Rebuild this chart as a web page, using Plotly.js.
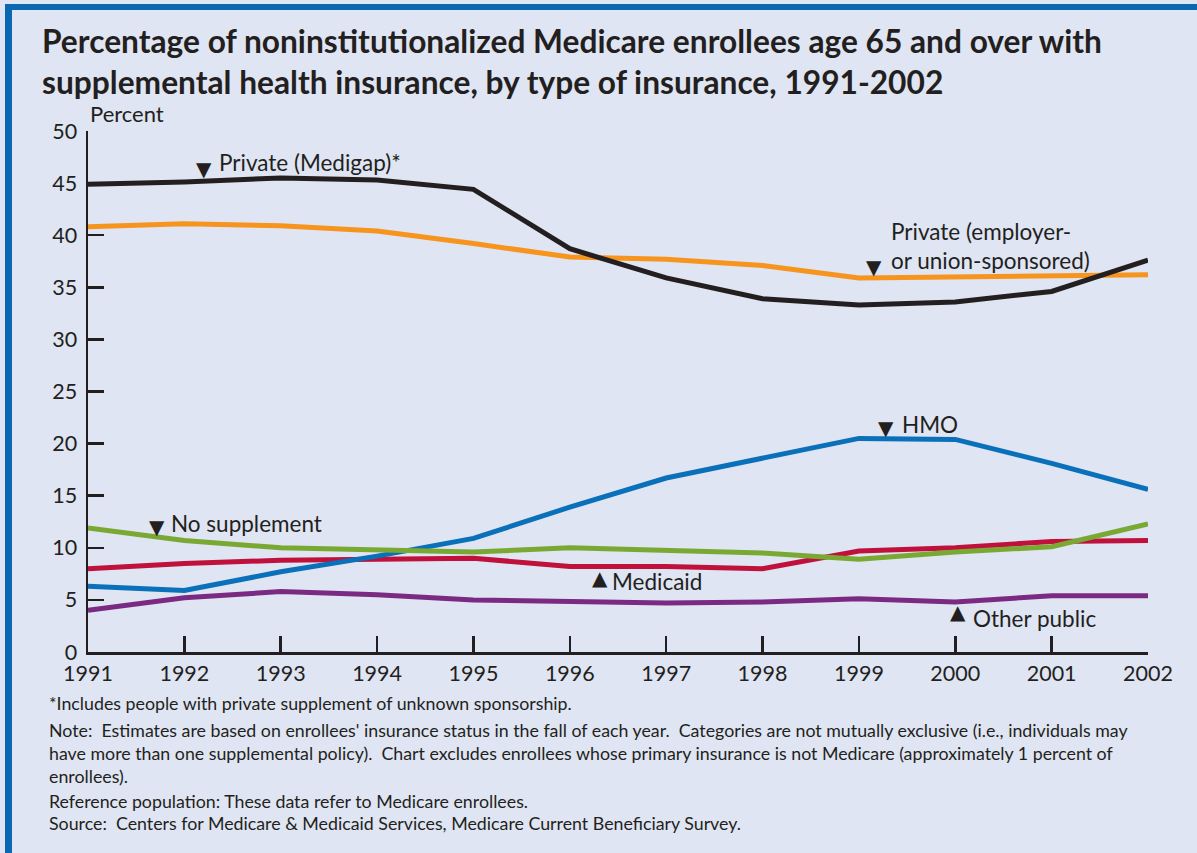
<!DOCTYPE html>
<html>
<head>
<meta charset="utf-8">
<script src="https://cdn.plot.ly/plotly-3.0.1.min.js"></script>
<style>
  html, body { margin:0; padding:0; background:#dfe5f2; }
  #wrap { position:relative; width:1197px; height:853px; overflow:hidden; }
  #chart { position:absolute; left:0; top:0; width:1197px; height:853px; }
  #btop { position:absolute; left:5px; top:4px; width:1192px; height:6px; background:#0a67b2; }
  #bleft { position:absolute; left:5px; top:4px; width:7px; height:849px; background:#0a67b2; }
</style>
</head>
<body>
<div id="wrap">
  <div id="chart"></div>
  <div id="btop"></div>
  <div id="bleft"></div>
</div>
<script>
const years = [1991,1992,1993,1994,1995,1996,1997,1998,1999,2000,2001,2002];
const medigap     = [44.9,45.1,45.5,45.3,44.4,38.7,35.9,33.9,33.3,33.6,34.6,37.6];
const employer    = [40.8,41.1,40.9,40.4,39.2,37.9,37.7,37.1,35.9,36.0,36.1,36.2];
const hmo         = [6.3,5.9,7.7,9.2,10.9,13.9,16.7,18.6,20.5,20.4,18.1,15.6];
const noSupp      = [11.9,10.7,10.0,9.8,9.6,10.0,9.8,9.5,8.9,9.6,10.1,12.3];
const medicaid    = [8.0,8.5,8.8,8.9,9.0,8.2,8.2,8.0,9.7,10.0,10.6,10.7];
const otherPublic = [4.0,5.2,5.8,5.5,5.0,4.8,4.7,4.8,5.1,4.8,5.4,5.4];
const yTicks = [0,5,10,15,20,25,30,35,40,45,50];

const ink = '#231f20';
const F = 'Lato, "Open Sans", sans-serif';

function line(y, color, name) {
  return { x: years, y: y, type: 'scatter', mode: 'lines', name: name,
           line: { color: color, width: 5 }, cliponaxis: false, hoverinfo: 'skip' };
}

const data = [
  line(employer, '#f7941d', 'Private (employer- or union-sponsored)'),
  line(medigap, ink, 'Private (Medigap)*'),
  line(otherPublic, '#7b2a83', 'Other public'),
  line(medicaid, '#c0103c', 'Medicaid'),
  line(hmo, '#0a70ba', 'HMO'),
  line(noSupp, '#79a933', 'No supplement')
];

function lbl(x, y, text) {
  return { x: x, y: y, xref: 'x', yref: 'y', text: text, showarrow: false,
           xanchor: 'left', yanchor: 'middle', align: 'left',
           font: { family: F, size: 22.5, color: ink } };
}
function tri(x, y, ch) {
  return { x: x, y: y, xref: 'x', yref: 'y', text: ch, showarrow: false,
           xanchor: 'center', yanchor: 'middle',
           font: { family: '"DejaVu Sans", sans-serif', size: 20, color: ink } };
}
function note(y, text) {
  return { x: -0.0387, y: y, xref: 'paper', yref: 'paper', text: text, showarrow: false,
           xanchor: 'left', yanchor: 'middle', align: 'left',
           font: { family: F, size: 17.8, color: ink } };
}

const annotations = [
  lbl(1992.34, 46.93, 'Private (Medigap)*'), tri(1992.20, 46.35, '▼'),
  lbl(1999.31, 38.96, 'Private (employer-<br>or union-sponsored)'), tri(1999.16, 36.95, '▼'),
  lbl(1999.43, 21.88, 'HMO'), tri(1999.28, 21.5, '▼'),
  lbl(1991.84, 12.38, 'No supplement'), tri(1991.72, 12.0, '▼'),
  lbl(1996.42, 6.72, 'Medicaid'), tri(1996.31, 7.1, '▲'),
  lbl(2000.16, 3.26, 'Other public'), tri(2000.03, 3.84, '▲'),
  { x: 0, y: 1.0345, xref: 'paper', yref: 'paper', text: 'Percent', showarrow: false,
    xanchor: 'left', yanchor: 'middle', font: { family: F, size: 22, color: ink } },
  note(-0.0988, '*Includes people with private supplement of unknown sponsorship.'),
  note(-0.1929, 'Note:  Estimates are based on enrollees\' insurance status in the fall of each year.  Categories are not mutually exclusive (i.e., individuals may<br>have more than one supplemental policy).  Chart excludes enrollees whose primary insurance is not Medicare (approximately 1 percent of<br>enrollees).'),
  note(-0.2860, 'Reference population: These data refer to Medicare enrollees.'),
  note(-0.3282, 'Source:  Centers for Medicare &amp; Medicaid Services, Medicare Current Beneficiary Survey.')
];

const axisCommon = {
  showline: true, linecolor: ink, linewidth: 2.5, mirror: false,
  ticks: 'inside', ticklen: 16, tickwidth: 2.5, tickcolor: ink,
  showgrid: false, zeroline: false, fixedrange: true,
  tickfont: { family: F, size: 21.5, color: ink }
};

const layout = {
  width: 1197, height: 853,
  margin: { l: 88, r: 49, t: 131, b: 201, pad: 0 },
  paper_bgcolor: '#dfe5f2', plot_bgcolor: '#dfe5f2',
  showlegend: false,
  title: {
    text: 'Percentage of noninstitutionalized Medicare enrollees age 65 and over with<br>supplemental health insurance, by type of insurance, 1991-2002',
    xref: 'container', yref: 'container', x: 42/1197, xanchor: 'left',
    y: 1 - 53/853, yanchor: 'top',
    font: { family: F, size: 31.7, weight: 'bold', color: ink }
  },
  xaxis: Object.assign({}, axisCommon, {
    range: [1991, 2002], tickvals: years, ticktext: years.map(String), ticklabelstandoff: 1
  }),
  yaxis: Object.assign({}, axisCommon, {
    range: [0, 50], tickvals: yTicks, ticktext: yTicks.map(String), ticklabelstandoff: 4
  }),
  annotations: annotations
};

Plotly.newPlot('chart', data, layout, { displayModeBar: false, staticPlot: true });
</script>
</body>
</html>
